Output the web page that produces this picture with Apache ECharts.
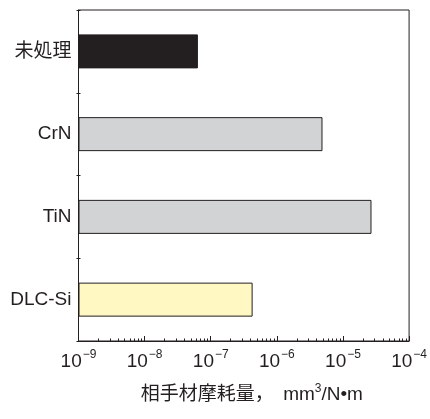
<!DOCTYPE html>
<html>
<head>
<meta charset="utf-8">
<script src="https://cdn.jsdelivr.net/npm/echarts@6/dist/echarts.min.js"></script>
<style>
  html, body { margin: 0; padding: 0; background: #fff; }
  #chart { width: 430px; height: 419px; }
</style>
</head>
<body>
<div id="chart"></div>
<script>
// Counterpart wear rate for each surface treatment (mm^3/N·m)
const categories = ['未処理', 'CrN', 'TiN', 'DLC-Si'];
const wearRates = [6.4e-8, 4.9e-6, 2.7e-5, 4.3e-7];
const barColors = ['#231f20', '#d1d3d4', '#d1d3d4', '#fff8c2'];
const xMin = 1e-9;
const xMax = 1e-4;
const axisTitle = '相手材摩耗量，\u2002mm{s|3}/N\u2022m';

const ink = '#231f20';
const fontFamily = "'Liberation Sans', 'Noto Sans CJK JP', sans-serif";

// minor tick positions 2..9 within each decade
const minorTicks = [];
for (let e = -9; e < -4; e++) {
  for (let m = 2; m <= 9; m++) minorTicks.push(m * Math.pow(10, e));
}

const chart = echarts.init(document.getElementById('chart'), null, { renderer: 'canvas' });

const grid = { left: 78.5, right: 18.5, top: 10, bottom: 78, show: true, borderColor: ink, borderWidth: 1, backgroundColor: 'transparent' };

chart.setOption({
  animation: false,
  backgroundColor: '#fff',
  grid: grid,
  xAxis: [
    {
      type: 'log',
      logBase: 10,
      min: xMin,
      max: xMax,
      startValue: xMin,
      axisLine: { show: true, lineStyle: { color: ink, width: 1 } },
      axisTick: { show: true, inside: true, length: 5, lineStyle: { color: ink } },
      splitLine: { show: false },
      minorTick: { show: false },
      axisLabel: {
        margin: 8,
        formatter: function (v) {
          const e = Math.round(Math.log10(v));
          return '{b|10}{e|' + (e < 0 ? '\u2212' + (-e) : e) + '}';
        },
        rich: {
          b: { fontSize: 19, lineHeight: 26, color: ink, fontFamily: fontFamily },
          e: { fontSize: 12, lineHeight: 26, verticalAlign: 'top', color: ink, fontFamily: fontFamily, padding: [0, 0, 0, 1] }
        }
      },
      name: axisTitle,
      nameLocation: 'middle',
      nameGap: 42,
      nameTextStyle: {
        fontSize: 19,
        color: ink,
        fontFamily: fontFamily,
        lineHeight: 24,
        padding: [0, 0, 0, 16],
        rich: {
          s: { fontSize: 12, lineHeight: 24, verticalAlign: 'top', color: ink, fontFamily: fontFamily }
        }
      }
    },
    {
      type: 'log',
      logBase: 10,
      min: xMin,
      max: xMax,
      position: 'bottom',
      axisLine: { show: false },
      axisLabel: { show: false },
      splitLine: { show: false },
      axisTick: { show: true, inside: true, length: 2.5, customValues: minorTicks, lineStyle: { color: ink } }
    }
  ],
  yAxis: [
    {
      type: 'category',
      data: categories,
      inverse: true,
      axisLine: { show: true, lineStyle: { color: ink, width: 1 } },
      axisTick: { show: true, inside: false, length: 2, lineStyle: { color: ink } },
      axisLabel: { fontSize: 19, color: ink, fontFamily: fontFamily, margin: 7 }
    },
    {
      type: 'category',
      data: categories,
      inverse: true,
      position: 'left',
      axisLine: { show: false },
      axisLabel: { show: false },
      axisTick: { show: true, inside: true, length: 2, lineStyle: { color: ink } }
    }
  ],
  series: [
    {
      type: 'bar',
      xAxisIndex: 0,
      yAxisIndex: 0,
      barWidth: 34,
      data: wearRates.map(function (v, i) {
        return { value: v, itemStyle: { color: barColors[i] } };
      }),
      itemStyle: { borderColor: ink, borderWidth: 1 }
    }
  ]
});
</script>
</body>
</html>
